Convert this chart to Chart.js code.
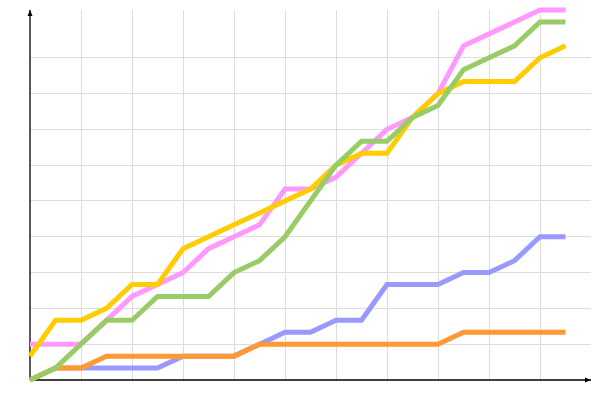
<!DOCTYPE html>
<html>
<head>
<meta charset="utf-8">
<script src="https://cdn.jsdelivr.net/npm/chart.js@4"></script>
<style>
  html, body { margin: 0; padding: 0; background: #fff; }
  #wrap { width: 600px; height: 400px; }
</style>
</head>
<body>
<div id="wrap"><canvas id="chart"></canvas></div>
<script>
// Séries cumulées (22 relevés)
const pink   = [3,3,3,5,7,8,9,11,12,13,16,16,17,19,21,22,24,28,29,30,31,31];
const green  = [0,1,3,5,5,7,7,7,9,10,12,15,18,20,20,22,23,26,27,28,30,30];
const yellow = [2,5,5,6,8,8,11,12,13,14,15,16,18,19,19,22,24,25,25,25,27,28];
const blue   = [0,1,1,1,1,1,2,2,2,3,4,4,5,5,8,8,8,9,9,10,12,12];
const orange = [0,1,1,2,2,2,2,2,2,3,3,3,3,3,3,3,3,4,4,4,4,4];

const X_MAX = 22, Y_MAX = 31;
const GRID = '#dddddd';

const toPoints = arr => arr.map((v, i) => ({ x: i, y: v }));

function line(data, color) {
  return {
    data: toPoints(data),
    borderColor: color, backgroundColor: color,
    borderWidth: 5, pointRadius: 0, tension: 0,
    borderJoinStyle: 'miter', clip: false
  };
}

// Axes noirs avec flèches, dessinés sous les courbes
const arrowAxes = {
  id: 'arrowAxes',
  beforeDatasetsDraw(chart) {
    const { ctx, chartArea: a } = chart;
    const y0 = chart.scales.y.getPixelForValue(0);
    const x0 = chart.scales.x.getPixelForValue(0);
    ctx.save();
    ctx.strokeStyle = '#000'; ctx.fillStyle = '#000'; ctx.lineWidth = 1.3;
    ctx.beginPath();
    ctx.moveTo(x0, y0); ctx.lineTo(x0, a.top);
    ctx.moveTo(x0, y0); ctx.lineTo(a.right, y0);
    ctx.stroke();
    ctx.beginPath();
    ctx.moveTo(x0, a.top); ctx.lineTo(x0 - 2.5, a.top + 6); ctx.lineTo(x0 + 2.5, a.top + 6); ctx.closePath();
    ctx.moveTo(a.right, y0); ctx.lineTo(a.right - 6, y0 - 2.5); ctx.lineTo(a.right - 6, y0 + 2.5); ctx.closePath();
    ctx.fill();
    ctx.restore();
  }
};

new Chart(document.getElementById('chart'), {
  type: 'line',
  data: {
    datasets: [
      line(green, '#99cc66'),
      line(yellow, '#ffcc00'),
      line(pink, '#ff99ff'),
      line(orange, '#ff9933'),
      line(blue, '#9999ff')
    ]
  },
  options: {
    responsive: true, maintainAspectRatio: false, animation: false,
    layout: { padding: { left: 30, right: 9, top: 10, bottom: 20 } },
    plugins: { legend: { display: false }, tooltip: { enabled: false } },
    scales: {
      x: {
        type: 'linear', min: 0, max: X_MAX,
        ticks: { display: false, stepSize: 2 },
        grid: {
          drawTicks: false,
          color: c => (c.tick && c.tick.value > 0 && c.tick.value < X_MAX) ? GRID : 'transparent'
        },
        border: { display: false }
      },
      y: {
        min: 0, max: Y_MAX,
        ticks: { display: false, stepSize: 3 },
        grid: {
          drawTicks: false,
          color: c => (c.tick && c.tick.value > 0 && c.tick.value < 30) ? GRID : 'transparent'
        },
        border: { display: false }
      }
    }
  },
  plugins: [arrowAxes]
});
</script>
</body>
</html>
